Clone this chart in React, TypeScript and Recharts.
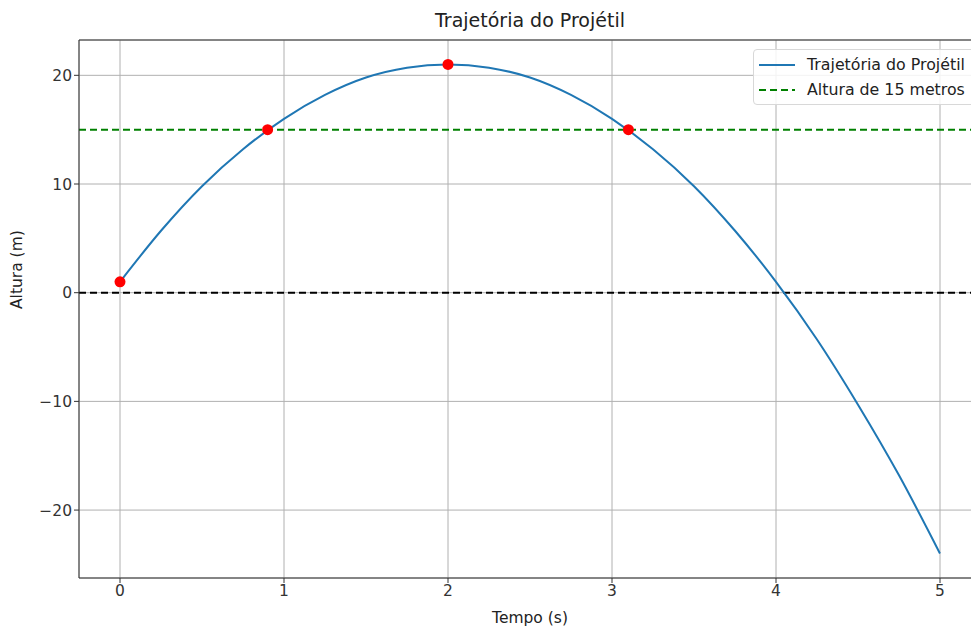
import React from 'react';
import {
  ComposedChart,
  Line,
  Scatter,
  XAxis,
  YAxis,
  CartesianGrid,
  ReferenceLine,
} from 'recharts';

// Trajectory (time in s, height in m)
const tempos = [0, 0.25, 0.5, 0.75, 1, 1.25, 1.5, 1.75, 2, 2.25, 2.5, 2.75, 3, 3.25, 3.5, 3.75, 4, 4.25, 4.5, 4.75, 5];
const alturas = [1, 5.7, 9.8, 13.2, 16, 18.2, 19.8, 20.7, 21, 20.7, 19.8, 18.2, 16, 13.2, 9.8, 5.7, 1, -4.3, -10.3, -16.8, -24];

// Highlighted points (red markers)
const pontosTempo = [0, 0.9, 2, 3.1];
const pontosAltura = [1, 15, 21, 15];

const xTicks = [0, 1, 2, 3, 4, 5];
const yTicks = [-20, -10, 0, 10, 20];
const alturaReferencia = 15;

const trajetoria = tempos.map((t, i) => ({ t, h: alturas[i] }));
const pontos = pontosTempo.map((t, i) => ({ t, h: pontosAltura[i] }));

const FONT = '"DejaVu Sans", sans-serif';
const fmt = (v: number) => String(v).replace('-', '\u2212');

const RedDot = (props: any) => <circle cx={props.cx} cy={props.cy} r={5.5} fill="#ff0000" />;

const LegendBox = () => (
  <div
    style={{
      position: 'absolute',
      left: 753,
      top: 49,
      background: 'rgba(255,255,255,0.85)',
      border: '1px solid #d8d8d8',
      borderRadius: 4,
      padding: '2px 14px 2px 4px',
      fontFamily: FONT,
      fontSize: 15.8,
      color: '#222',
      lineHeight: '25px',
      whiteSpace: 'nowrap',
    }}
  >
    <div style={{ display: 'flex', alignItems: 'center' }}>
      <svg width={40} height={10} style={{ marginRight: 9 }}>
        <line x1={1} y1={5} x2={37} y2={5} stroke="#1f77b4" strokeWidth={2} />
      </svg>
      Trajetória do Projétil
    </div>
    <div style={{ display: 'flex', alignItems: 'center' }}>
      <svg width={40} height={10} style={{ marginRight: 9 }}>
        <line x1={1} y1={5} x2={37} y2={5} stroke="#008000" strokeWidth={2} strokeDasharray="7 4" />
      </svg>
      Altura de 15 metros
    </div>
  </div>
);

export default function App() {
  return (
    <div
      style={{
        position: 'fixed',
        left: 0,
        top: 0,
        width: 971,
        height: 628,
        overflow: 'hidden',
        background: '#fff',
      }}
    >
      <div
        style={{
          position: 'absolute',
          left: 0,
          top: 9,
          width: 1060,
          textAlign: 'center',
          fontFamily: FONT,
          fontSize: 19,
          color: '#222',
        }}
      >
        Trajetória do Projétil
      </div>
      <ComposedChart
        width={1000}
        height={628}
        data={trajetoria}
        margin={{ top: 40, right: 19, left: 0, bottom: 20 }}
        style={{ fontFamily: FONT }}
      >
        <CartesianGrid stroke="#b0b0b0" strokeWidth={1} />
        <XAxis
          dataKey="t"
          type="number"
          domain={[-0.25, 5.25]}
          ticks={xTicks}
          tickFormatter={fmt}
          height={30}
          tick={{ fill: '#333', fontSize: 15.5 }}
          stroke="#333"
          tickSize={5}
          allowDataOverflow
          label={{ value: 'Tempo (s)', position: 'insideBottom', offset: -15, fill: '#222', fontSize: 15.5 }}
        />
        <YAxis
          dataKey="h"
          type="number"
          domain={[-26.25, 23.25]}
          ticks={yTicks}
          tickFormatter={fmt}
          width={79}
          tick={{ fill: '#333', fontSize: 15.5 }}
          stroke="#333"
          tickSize={5}
          allowDataOverflow
          label={{ value: 'Altura (m)', angle: -90, position: 'insideLeft', offset: 16, fill: '#222', fontSize: 15.5 }}
        />
        <ReferenceLine y={0} stroke="#000" strokeWidth={2} strokeDasharray="7 4" />
        <ReferenceLine y={alturaReferencia} stroke="#008000" strokeWidth={2} strokeDasharray="7 4" />
        <Line
          dataKey="h"
          type="monotone"
          stroke="#1f77b4"
          strokeWidth={2}
          dot={false}
          isAnimationActive={false}
        />
        <Scatter data={pontos} dataKey="h" fill="#ff0000" shape={<RedDot />} isAnimationActive={false} />
        {/* right spine + top spine */}
        <ReferenceLine x={5.25} stroke="#333" />
        <ReferenceLine y={23.25} stroke="#333" />
      </ComposedChart>
      <LegendBox />
    </div>
  );
}
